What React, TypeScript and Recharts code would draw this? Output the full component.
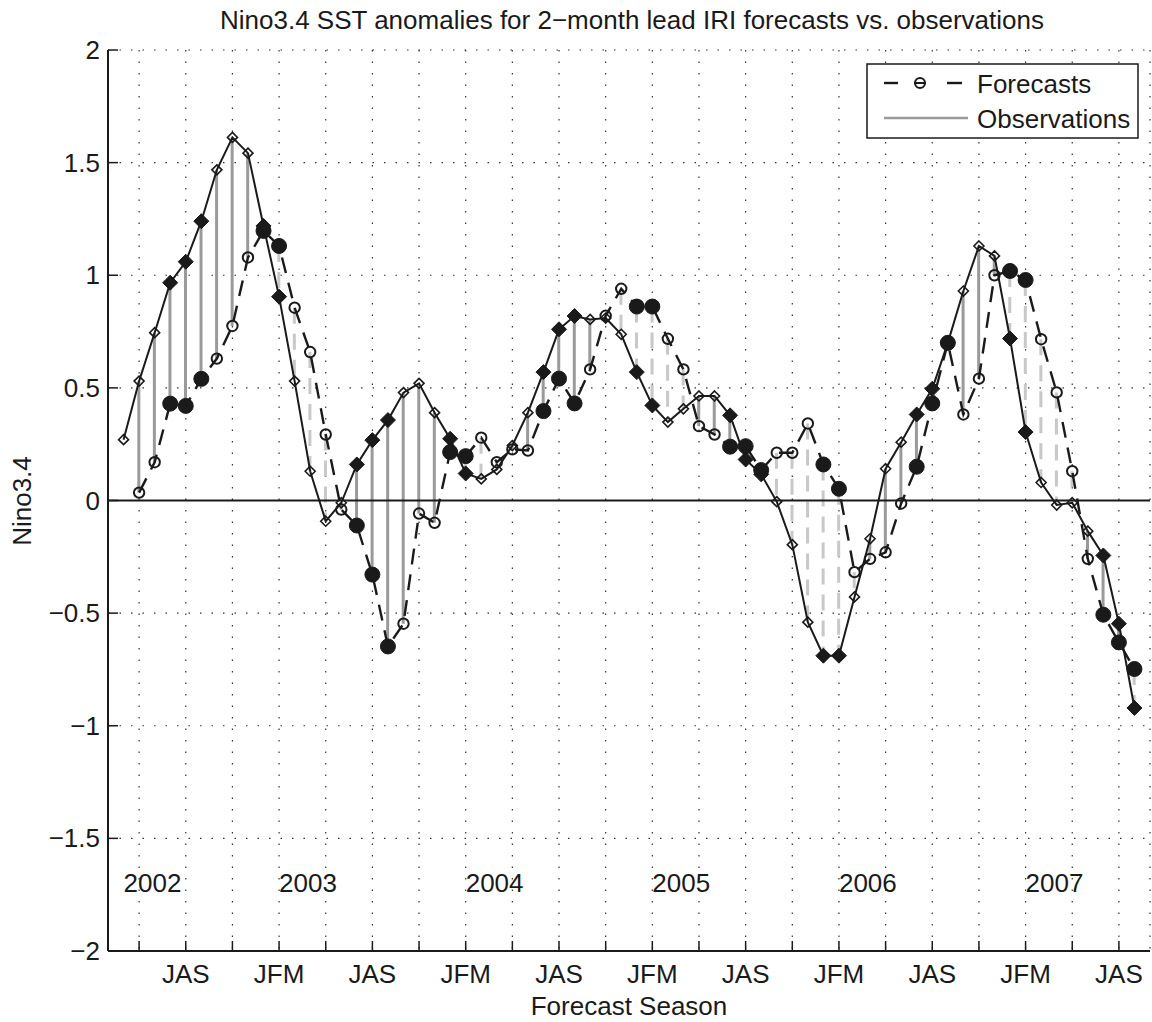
import React from 'react';
import {
  Bar,
  CartesianGrid,
  ComposedChart,
  Line,
  ReferenceLine,
  Scatter,
  XAxis,
  YAxis,
} from 'recharts';

// seasons run monthly, first point is MAM 2002
const seasonCycle = ['DJF', 'JFM', 'FMA', 'MAM', 'AMJ', 'MJJ', 'JJA', 'JAS', 'ASO', 'SON', 'OND', 'NDJ'];
const firstSeasonPos = 3;

const observed = [
  0.27, 0.53, 0.745, 0.967, 1.06, 1.24, 1.468, 1.612, 1.542, 1.219, 0.905, 0.53, 0.13, -0.092,
  -0.01, 0.16, 0.268, 0.357, 0.479, 0.52, 0.39, 0.274, 0.12, 0.096, 0.138, 0.244, 0.39, 0.57,
  0.76, 0.819, 0.804, 0.81, 0.738, 0.57, 0.422, 0.348, 0.407, 0.464, 0.464, 0.378, 0.182, 0.116,
  -0.005, -0.196, -0.54, -0.689, -0.689, -0.428, -0.17, 0.141, 0.259, 0.382, 0.496, 0.7, 0.93,
  1.13, 1.086, 0.719, 0.304, 0.08, -0.02, -0.01, -0.136, -0.244, -0.547, -0.921,
];

const forecast = [
  null, 0.035, 0.17, 0.43, 0.42, 0.54, 0.63, 0.775, 1.079, 1.197, 1.13, 0.856, 0.659, 0.293,
  -0.04, -0.111, -0.329, -0.648, -0.547, -0.058, -0.099, 0.215, 0.197, 0.279, 0.17, 0.227, 0.222,
  0.397, 0.541, 0.431, 0.582, 0.82, 0.94, 0.861, 0.861, 0.718, 0.582, 0.33, 0.293, 0.239, 0.241,
  0.135, 0.212, 0.212, 0.342, 0.16, 0.052, -0.318, -0.259, -0.23, -0.013, 0.15, 0.431, 0.7, 0.382,
  0.541, 1.0, 1.019, 0.979, 0.716, 0.48, 0.13, -0.259, -0.507, -0.63, -0.748,
];

// seasons drawn with filled markers
const filledSeasons = ['JJA', 'JAS', 'ASO', 'DJF', 'JFM'];
const labelledSeasons = ['JAS', 'JFM'];

const years = ['2002', '2003', '2004', '2005', '2006', '2007'];
const yearStart = [0, 10, 22, 34, 46, 58];
const yearLabelY = -1.7;

const xTicks = [1, 4, 7, 10, 13, 16, 19, 22, 25, 28, 31, 34, 37, 40, 43, 46, 49, 52, 55, 58, 61, 64];
const yTicks = [-2, -1.5, -1, -0.5, 0, 0.5, 1, 1.5, 2];

const FONT = '"Liberation Sans", Arial, Helvetica, sans-serif';
const INK = '#1a1a1a';

// chart geometry (margins + axis sizes)
const W = 1152;
const H = 1022;
const MARGIN = { top: 50, right: 2, bottom: 0, left: 0 };
const Y_AXIS_W = 108;
const X_AXIS_H = 71;
const PLOT_LEFT = MARGIN.left + Y_AXIS_W;
const PLOT_RIGHT = W - MARGIN.right;
const PLOT_TOP = MARGIN.top;
const PLOT_BOTTOM = H - MARGIN.bottom - X_AXIS_H;
const TICK_LEN = 10;

const data = observed.map((obs, i) => {
  const f = forecast[i];
  const season = seasonCycle[(i + firstSeasonPos) % 12];
  return {
    idx: i,
    season,
    obs,
    fcst: f,
    gap: f == null ? null : [Math.min(obs, f), Math.max(obs, f)],
    fcstHigher: f != null && f > obs,
    filled: filledSeasons.includes(season),
  };
});

const yearPoints = years.map((label, i) => ({ idx: yearStart[i], y: yearLabelY, label }));

function fmtY(v: number) {
  const s = String(Math.abs(v));
  return v < 0 ? '\u2212' + s : s;
}

function ObsDot(props: any) {
  const { cx, cy, payload, index } = props;
  if (cx == null || cy == null) return <g key={`o${index}`} />;
  const s = payload.filled ? 7.5 : 5;
  const pts = `${cx},${cy - s} ${cx + s},${cy} ${cx},${cy + s} ${cx - s},${cy}`;
  return (
    <polygon
      key={`o${index}`}
      points={pts}
      fill={payload.filled ? INK : 'none'}
      stroke={INK}
      strokeWidth={payload.filled ? 1 : 1.6}
    />
  );
}

function FcstDot(props: any) {
  const { cx, cy, payload, index } = props;
  if (cx == null || cy == null || payload.fcst == null) return <g key={`f${index}`} />;
  return payload.filled ? (
    <circle key={`f${index}`} cx={cx} cy={cy} r={7.5} fill={INK} stroke={INK} strokeWidth={1} />
  ) : (
    <circle key={`f${index}`} cx={cx} cy={cy} r={5.2} fill="none" stroke={INK} strokeWidth={2} />
  );
}

function GapShape(props: any) {
  const { x, y, width, height, payload } = props;
  if (payload == null || payload.gap == null || x == null) return <g />;
  const cx = x + width / 2;
  return payload.fcstHigher ? (
    <line x1={cx} x2={cx} y1={y} y2={y + height} stroke="#c8c8c8" strokeWidth={3} strokeDasharray="16 10" />
  ) : (
    <line x1={cx} x2={cx} y1={y} y2={y + height} stroke="#9a9a9a" strokeWidth={3} />
  );
}

function YearLabel(props: any) {
  const { cx, cy, payload } = props;
  return (
    <text x={cx} y={cy + 9} fontSize={26} fontFamily={FONT} fill={INK} textAnchor="start">
      {payload.label}
    </text>
  );
}

function BottomTick(props: any) {
  const { x, payload } = props;
  const season = seasonCycle[(payload.value + firstSeasonPos) % 12];
  return (
    <g>
      <line x1={x} x2={x} y1={PLOT_BOTTOM} y2={PLOT_BOTTOM - TICK_LEN} stroke={INK} strokeWidth={1.5} />
      {labelledSeasons.includes(season) ? (
        <text x={x} y={PLOT_BOTTOM + 32} textAnchor="middle" fontSize={26} fontFamily={FONT} fill={INK}>
          {season}
        </text>
      ) : null}
    </g>
  );
}

function TopTick(props: any) {
  const { x } = props;
  return <line x1={x} x2={x} y1={PLOT_TOP} y2={PLOT_TOP + TICK_LEN} stroke={INK} strokeWidth={1.5} />;
}

function LeftTick(props: any) {
  const { y, payload } = props;
  return (
    <g>
      <line x1={PLOT_LEFT} x2={PLOT_LEFT + TICK_LEN} y1={y} y2={y} stroke={INK} strokeWidth={1.5} />
      <text x={PLOT_LEFT - 8} y={y + 9} textAnchor="end" fontSize={26} fontFamily={FONT} fill={INK}>
        {fmtY(payload.value)}
      </text>
    </g>
  );
}

function RightTick(props: any) {
  const { y } = props;
  return <line x1={PLOT_RIGHT} x2={PLOT_RIGHT - TICK_LEN} y1={y} y2={y} stroke={INK} strokeWidth={1.5} />;
}

export default function App() {
  return (
    <div style={{ position: 'absolute', left: 0, top: 0, width: W, height: H, background: '#fff' }}>
      <ComposedChart width={W} height={H} data={data} margin={MARGIN}>
        <CartesianGrid stroke="#333" strokeWidth={1.2} strokeDasharray="1.5 10" />
        <XAxis
          dataKey="idx"
          type="number"
          domain={[-1, 66]}
          allowDataOverflow
          ticks={xTicks}
          interval={0}
          height={X_AXIS_H}
          tickSize={0}
          tickMargin={0}
          tickLine={false}
          axisLine={{ stroke: INK, strokeWidth: 2 }}
          tick={<BottomTick />}
        />
        <XAxis
          xAxisId="top"
          dataKey="idx"
          type="number"
          orientation="top"
          domain={[-1, 66]}
          allowDataOverflow
          ticks={xTicks}
          interval={0}
          height={0}
          tickSize={0}
          tickMargin={0}
          tickLine={false}
          axisLine={{ stroke: INK, strokeWidth: 2 }}
          tick={<TopTick />}
        />
        <YAxis
          type="number"
          domain={[-2, 2]}
          allowDataOverflow
          ticks={yTicks}
          interval={0}
          width={Y_AXIS_W}
          tickSize={0}
          tickMargin={0}
          tickLine={false}
          axisLine={{ stroke: INK, strokeWidth: 2 }}
          tick={<LeftTick />}
        />
        <YAxis
          yAxisId="right"
          orientation="right"
          type="number"
          domain={[-2, 2]}
          allowDataOverflow
          ticks={yTicks}
          interval={0}
          width={0}
          tickSize={0}
          tickMargin={0}
          tickLine={false}
          axisLine={{ stroke: INK, strokeWidth: 2 }}
          tick={<RightTick />}
        />
        <Bar dataKey="gap" barSize={3} shape={<GapShape />} isAnimationActive={false} />
        <ReferenceLine y={0} stroke={INK} strokeWidth={2.2} />
        <Line
          dataKey="fcst"
          stroke={INK}
          strokeWidth={2.4}
          strokeDasharray="16 10"
          dot={FcstDot}
          activeDot={false}
          connectNulls={false}
          isAnimationActive={false}
        />
        <Line
          dataKey="obs"
          stroke={INK}
          strokeWidth={2}
          dot={ObsDot}
          activeDot={false}
          isAnimationActive={false}
        />
        <Scatter data={yearPoints} dataKey="y" shape={<YearLabel />} isAnimationActive={false} />
      </ComposedChart>
      <svg
        width={W}
        height={H}
        style={{ position: 'absolute', left: 0, top: 0, pointerEvents: 'none' }}
        fontFamily={FONT}
      >
        <text x={632} y={29} textAnchor="middle" fontSize={26} fill={INK}>
          Nino3.4 SST anomalies for 2{'\u2212'}month lead IRI forecasts vs. observations
        </text>
        <text x={629} y={1015} textAnchor="middle" fontSize={26} fill={INK}>
          Forecast Season
        </text>
        <text transform="translate(31,501) rotate(-90)" textAnchor="middle" fontSize={26} fill={INK}>
          Nino3.4
        </text>
        <g>
          <rect x={867} y={64} width={271} height={74} fill="#fff" stroke={INK} strokeWidth={1.5} />
          <line x1={884} x2={898} y1={83} y2={83} stroke={INK} strokeWidth={2.4} />
          <line x1={947} x2={962} y1={83} y2={83} stroke={INK} strokeWidth={2.4} />
          <line x1={914} x2={926} y1={83} y2={83} stroke={INK} strokeWidth={2} />
          <circle cx={920} cy={83} r={5} fill="none" stroke={INK} strokeWidth={2} />
          <text x={977} y={93} fontSize={26} fill={INK}>
            Forecasts
          </text>
          <line x1={884} x2={968} y1={118} y2={118} stroke="#9a9a9a" strokeWidth={2.5} />
          <text x={977} y={128} fontSize={26} fill={INK}>
            Observations
          </text>
        </g>
      </svg>
    </div>
  );
}
